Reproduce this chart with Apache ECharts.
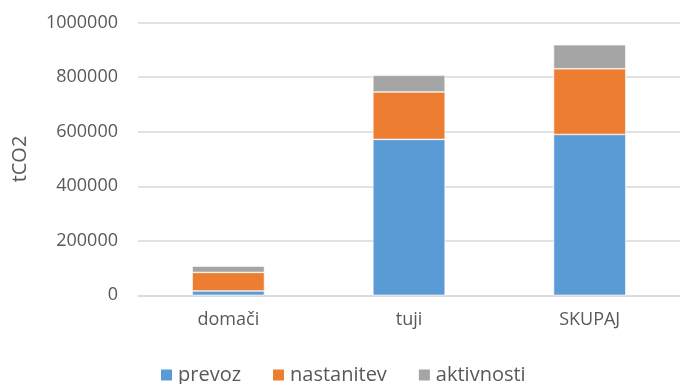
<!DOCTYPE html>
<html>
<head>
<meta charset="utf-8">
<script src="https://cdn.jsdelivr.net/npm/echarts@6/dist/echarts.min.js"></script>
<style>
  html, body { margin: 0; padding: 0; background: #fff; }
  #chart { width: 680px; height: 384px; }
</style>
</head>
<body>
<div id="chart"></div>
<script>
// Emissions by segment (tCO2)
const categories = ['domači', 'tuji', 'SKUPAJ'];
const prevoz = [16000, 572000, 590000];
const nastanitev = [68000, 174000, 241000];
const aktivnosti = [23000, 61000, 88000];
const seriesNames = ['prevoz', 'nastanitev', 'aktivnosti'];
const yTicks = { min: 0, max: 1000000, interval: 200000 };

const FONT = 'Open Sans';
const TEXT = '#595959';

const chart = echarts.init(document.getElementById('chart'), null, { renderer: 'canvas' });

const makeSeries = (name, data, color) => ({
  name: name,
  type: 'bar',
  stack: 'total',
  barWidth: '40%',
  data: data,
  itemStyle: { color: color, borderColor: '#ffffff', borderWidth: 0.6 },
  emphasis: { disabled: true }
});

chart.setOption({
  animation: false,
  textStyle: { fontFamily: FONT },
  grid: { left: 138, right: -7, top: 22.7, bottom: 88.7, containLabel: false },
  xAxis: {
    type: 'category',
    data: categories,
    axisLine: { show: true, lineStyle: { color: '#D9D9D9', width: 1.5 } },
    axisTick: { show: false },
    axisLabel: { color: TEXT, fontSize: 18, fontFamily: FONT, margin: 16 }
  },
  yAxis: {
    type: 'value',
    min: yTicks.min,
    max: yTicks.max,
    interval: yTicks.interval,
    name: 'tCO2',
    nameLocation: 'middle',
    nameGap: 108,
    nameRotate: 90,
    nameTextStyle: { color: TEXT, fontSize: 20, fontFamily: FONT },
    axisLine: { show: false },
    axisTick: { show: false },
    splitLine: { lineStyle: { color: '#D9D9D9', width: 1.5 } },
    axisLabel: {
      color: TEXT, fontSize: 18, fontFamily: FONT, margin: 20,
      formatter: (v) => String(v)
    }
  },
  legend: {
    data: seriesNames,
    left: 154,
    top: 360,
    padding: 5,
    itemWidth: 13,
    itemHeight: 13,
    itemGap: 30,
    icon: 'rect',
    textStyle: { color: TEXT, fontSize: 20, fontFamily: FONT }
  },
  series: [
    makeSeries(seriesNames[0], prevoz, '#5B9BD5'),
    makeSeries(seriesNames[1], nastanitev, '#ED7D31'),
    makeSeries(seriesNames[2], aktivnosti, '#A5A5A5')
  ]
});
</script>
</body>
</html>
